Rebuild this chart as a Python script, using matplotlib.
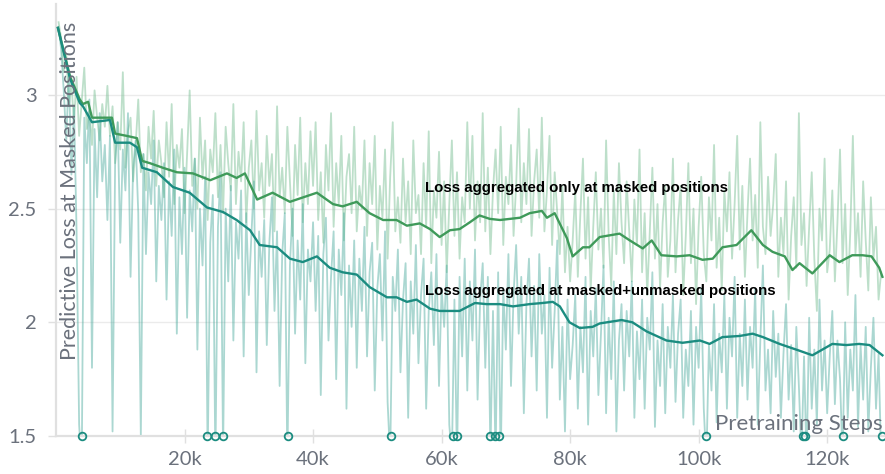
import matplotlib
matplotlib.use("Agg")
import matplotlib.pyplot as plt
import numpy as np

# ---------------- data ----------------
# smoothed curve: loss aggregated only at masked positions (steps in thousands)
masked_steps_k = [0.3, 2.2, 3.7, 4.2, 5.0, 5.6, 8.7, 9.2, 11.0, 12.6, 13.4, 14.6, 16.6, 18.8,
                  21.3, 24.0, 26.6, 28.1, 29.4, 31.3, 33.7, 36.4, 40.6, 43.1, 44.6, 46.8,
                  48.8, 50.9, 53.0, 54.6, 56.6, 58.2, 59.7, 61.3, 62.8, 64.4, 65.9, 67.5,
                  69.1, 72.2, 73.7, 75.6, 76.4, 77.6, 79.5, 80.4, 82.0, 83.0, 84.6, 87.7,
                  89.3, 91.3, 92.7, 94.2, 96.6, 98.6, 100.6, 102.2, 103.7, 105.9, 108.2,
                  110.0, 111.5, 113.4, 114.6, 115.7, 117.7, 120.4, 121.9, 123.9, 125.5,
                  126.9, 128.1, 128.6]
masked_smooth = [3.295, 3.08, 2.98, 2.96, 2.97, 2.90, 2.90, 2.83, 2.82, 2.81, 2.71, 2.70, 2.68,
                 2.66, 2.655, 2.625, 2.655, 2.635, 2.655, 2.54, 2.57, 2.53, 2.57, 2.52, 2.51,
                 2.53, 2.48, 2.45, 2.45, 2.425, 2.435, 2.41, 2.375, 2.405, 2.41, 2.44, 2.47,
                 2.455, 2.45, 2.46, 2.48, 2.49, 2.46, 2.48, 2.37, 2.29, 2.33, 2.33, 2.375,
                 2.39, 2.36, 2.325, 2.36, 2.295, 2.29, 2.295, 2.275, 2.28, 2.33, 2.34, 2.405,
                 2.34, 2.31, 2.29, 2.23, 2.26, 2.215, 2.295, 2.265, 2.295, 2.295, 2.29, 2.24,
                 2.20]

# smoothed curve: loss aggregated at masked+unmasked positions
all_steps_k = [0.3, 2.2, 3.7, 4.2, 5.6, 8.4, 9.2, 11.5, 12.6, 13.4, 15.7, 18.2, 20.8, 23.5,
               26.0, 28.1, 30.2, 31.7, 34.4, 36.4, 38.4, 40.6, 42.6, 44.6, 46.8, 48.8, 51.5,
               53.0, 54.6, 56.1, 58.2, 59.7, 62.8, 65.2, 67.0, 69.1, 71.1, 73.7, 75.7, 77.3,
               78.4, 79.9, 81.5, 83.5, 84.6, 88.0, 89.7, 91.9, 95.0, 97.5, 100.2, 101.7,
               103.7, 106.4, 108.4, 110.0, 112.6, 115.7, 117.7, 120.8, 123.0, 125.0, 126.6,
               128.6]
all_smooth = [3.295, 3.07, 2.965, 2.95, 2.88, 2.89, 2.79, 2.79, 2.77, 2.68, 2.66, 2.595, 2.57,
              2.505, 2.485, 2.45, 2.405, 2.34, 2.33, 2.28, 2.265, 2.29, 2.24, 2.22, 2.21, 2.155,
              2.11, 2.11, 2.09, 2.10, 2.06, 2.05, 2.05, 2.085, 2.08, 2.08, 2.07, 2.08, 2.085,
              2.09, 2.07, 2.0, 1.975, 1.98, 1.995, 2.01, 2.0, 1.96, 1.92, 1.91, 1.92, 1.905,
              1.935, 1.94, 1.95, 1.935, 1.905, 1.875, 1.855, 1.905, 1.90, 1.905, 1.90, 1.855]

# raw (unsmoothed) values, logged every 400 steps starting at step 400
raw_first_step = 400
raw_step_every = 400
masked_raw = [
    3.32, 3.25, 3.10, 3.18, 2.95, 3.05, 2.88, 3.08, 2.82, 2.97, 3.12, 2.85, 2.93, 2.78, 3.02, 2.90, 2.80, 2.96, 2.86, 3.04,
    2.82, 2.95, 2.70, 2.88, 2.76, 3.10, 2.68, 2.84, 2.90, 2.62, 2.78, 2.98, 2.66, 2.74, 2.58, 2.86, 2.72, 2.93, 2.60, 2.80,
    2.70, 2.55, 2.88, 2.64, 2.96, 2.52, 2.78, 2.68, 2.85, 2.48, 2.74, 3.02, 2.60, 2.72, 2.50, 2.90, 2.63, 2.80, 2.45, 2.76,
    2.66, 2.92, 2.55, 2.78, 2.48, 2.86, 2.70, 2.58, 2.96, 2.52, 2.75, 2.62, 2.88, 2.44, 2.68, 2.80, 2.50, 2.93, 2.58, 2.70,
    2.46, 2.82, 2.60, 2.74, 2.40, 2.95, 2.55, 2.68, 2.48, 2.86, 2.62, 2.38, 2.78, 2.56, 2.90, 2.44, 2.70, 2.52, 2.84, 2.60,
    2.88, 2.45, 2.66, 2.35, 2.78, 2.58, 2.92, 2.42, 2.70, 2.52, 2.82, 2.36, 2.64, 2.74, 2.48, 2.86, 2.40, 2.60, 2.50, 2.80,
    2.38, 2.70, 2.52, 2.82, 2.32, 2.60, 2.46, 2.76, 2.28, 2.64, 2.88, 2.40, 2.55, 2.35, 2.72, 2.44, 2.62, 2.30, 2.80, 2.48,
    2.56, 2.30, 2.70, 2.42, 2.84, 2.26, 2.58, 2.46, 2.75, 2.34, 2.62, 2.22, 2.52, 2.80, 2.38, 2.66, 2.28, 2.55, 2.44, 2.88,
    2.50, 2.82, 2.36, 2.62, 2.44, 2.92, 2.40, 2.68, 2.30, 2.58, 2.76, 2.48, 2.86, 2.34, 2.64, 2.52, 2.78, 2.38, 2.60, 2.94,
    2.44, 2.70, 2.52, 2.85, 2.38, 2.62, 2.76, 2.46, 2.90, 2.40, 2.58, 2.82, 2.34, 2.66, 2.48, 2.30, 2.60, 2.22, 2.42, 2.18,
    2.36, 2.58, 2.20, 2.48, 2.72, 2.28, 2.55, 2.14, 2.42, 2.66, 2.32, 2.50, 2.24, 2.80, 2.38, 2.16, 2.58, 2.30, 2.70, 2.44,
    2.26, 2.62, 2.40, 2.18, 2.54, 2.34, 2.76, 2.22, 2.48, 2.12, 2.40, 2.68, 2.28, 2.52, 2.15, 2.44, 2.60, 2.20, 2.36, 2.72,
    2.22, 2.45, 2.60, 2.12, 2.38, 2.70, 2.26, 2.50, 2.08, 2.42, 2.64, 2.30, 2.18, 2.55, 2.36, 2.78, 2.24, 2.46, 2.14, 2.58,
    2.40, 2.66, 2.28, 2.52, 2.82, 2.32, 2.60, 2.20, 2.48, 2.72, 2.36, 2.56, 2.24, 2.88, 2.42, 2.30, 2.64, 2.38, 2.52, 2.74,
    2.20, 2.46, 2.30, 2.62, 2.10, 2.38, 2.55, 2.24, 2.92, 2.34, 2.48, 2.16, 2.42, 2.66, 2.28, 2.05, 2.50, 2.36, 2.72, 2.22,
    2.32, 2.58, 2.18, 2.44, 2.76, 2.26, 2.52, 2.12, 2.40, 2.82, 2.30, 2.48, 2.20, 2.62, 2.36, 2.14, 2.55, 2.28, 2.42, 2.10,
    2.22]
all_raw = [
    3.30, 3.20, 3.02, 2.80, 3.10, 2.65, 2.95, 2.40, 1.55, 1.35, 2.90, 2.70, 2.98, 1.80, 2.85, 2.55, 2.92, 2.62, 2.78, 2.45,
    2.82, 1.52, 2.70, 2.88, 2.35, 2.76, 2.58, 2.92, 2.20, 2.68, 2.80, 2.48, 1.50, 2.74, 2.30, 2.66, 2.52, 2.80, 2.18, 2.60,
    2.45, 2.70, 2.10, 2.62, 2.38, 2.76, 1.95, 2.55, 2.30, 2.68, 2.02, 2.58, 2.40, 2.72, 1.88, 2.50, 2.25, 2.64, 1.40, 2.35,
    2.56, 1.38, 2.42, 2.66, 1.42, 2.50, 2.18, 2.60, 1.92, 2.44, 2.28, 2.58, 1.85, 2.48, 2.12, 2.38, 2.62, 1.78, 2.40, 2.20,
    2.45, 1.90, 2.35, 2.55, 2.05, 2.40, 1.72, 2.30, 2.48, 1.38, 2.25, 2.50, 1.95, 2.36, 2.10, 2.52, 1.82, 2.32, 2.18, 2.44,
    2.05, 2.38, 1.68, 2.30, 2.46, 1.92, 2.20, 2.40, 1.75, 2.32, 2.12, 2.48, 1.62, 2.25, 1.98, 2.36, 1.80, 2.28, 2.05, 2.42,
    1.85, 2.22, 2.35, 1.70, 2.15, 2.30, 1.92, 2.40, 1.65, 1.40, 2.20, 2.05, 2.32, 1.78, 2.10, 2.26, 1.58, 2.18, 1.95, 2.34,
    1.82, 2.12, 2.28, 1.62, 2.05, 2.22, 1.90, 2.30, 1.72, 2.15, 1.98, 2.25, 1.55, 1.40, 2.10, 1.38, 2.20, 1.85, 2.28, 1.70,
    2.18, 1.92, 2.32, 1.66, 2.10, 2.26, 1.80, 2.20, 1.42, 2.05, 1.40, 2.22, 1.38, 2.15, 1.88, 2.30, 1.72, 2.12, 2.34, 1.95,
    2.20, 1.60, 2.08, 2.28, 1.85, 2.16, 1.70, 2.30, 1.95, 2.12, 1.58, 2.24, 1.80, 2.05, 2.36, 1.66, 1.98, 1.52, 2.10, 1.75,
    1.90, 2.12, 1.62, 1.98, 1.78, 2.20, 1.55, 2.05, 1.85, 2.15, 1.68, 1.95, 2.25, 1.60, 2.02, 1.75, 2.18, 1.52, 1.92, 2.08,
    1.70, 2.05, 1.85, 2.18, 1.58, 1.96, 1.75, 2.10, 1.62, 2.02, 1.88, 2.22, 1.54, 1.92, 1.72, 2.08, 1.60, 1.98, 1.80, 2.12,
    1.65, 1.95, 2.10, 1.58, 1.88, 1.72, 2.05, 1.55, 1.98, 1.80, 2.15, 1.62, 1.38, 1.90, 1.70, 2.08, 1.56, 1.95, 1.78, 2.12,
    1.62, 2.02, 1.85, 2.20, 1.58, 1.95, 1.72, 2.10, 1.66, 1.98, 1.80, 2.15, 1.55, 1.92, 2.25, 1.70, 1.88, 1.60, 2.05, 1.76,
    1.95, 1.58, 1.86, 2.08, 1.66, 1.90, 1.52, 1.98, 1.72, 1.40, 1.85, 1.38, 2.02, 1.62, 1.88, 1.55, 2.10, 1.70, 1.92, 1.60,
    1.85, 2.05, 1.64, 1.92, 1.75, 1.40, 2.00, 1.58, 1.88, 1.70, 2.12, 1.54, 1.90, 1.66, 1.98, 1.52, 1.80, 2.02, 1.62, 1.86,
    1.40]

# steps (thousands) where the masked+unmasked raw loss falls below the visible range
below_range_steps_k = [4.0, 23.5, 24.7, 26.0, 36.1, 52.1, 61.7, 62.4, 67.5, 68.3, 69.0,
                       101.2, 116.2, 116.6, 122.4, 128.5]

x_ticks_k = [20, 40, 60, 80, 100, 120]
x_tick_labels = ["20k", "40k", "60k", "80k", "100k", "120k"]
y_ticks = [1.5, 2, 2.5, 3]
y_tick_labels = ["1.5", "2", "2.5", "3"]

label_masked = "Loss aggregated only at masked positions"
label_all = "Loss aggregated at masked+unmasked positions"
y_title = "Predictive Loss at Masked Positions"
x_title = "Pretraining Steps"

# ---------------- drawing ----------------
GREEN = "#3f9a5a"
TEAL = "#1b8c80"
GREEN_RAW = "#7cc196"
TEAL_RAW = "#45a89b"
GRID = "#ebebeb"
AXIS = "#e0e0e0"
TXT = "#6b717c"
FONT = ["Lato", "DejaVu Sans"]

fig = plt.figure(figsize=(8.85, 4.74), dpi=100)
W, H = 885, 474
ax = fig.add_axes([56 / W, 38 / H, 829 / W, 432 / H])
ax.set_xlim(0, 129000)
ax.set_ylim(1.5, 3.4)

raw_x_m = raw_first_step + raw_step_every * np.arange(len(masked_raw))
raw_x_a = raw_first_step + raw_step_every * np.arange(len(all_raw))
ax.plot(raw_x_m, masked_raw, color=GREEN_RAW, alpha=0.5, lw=1.3, zorder=2)
ax.plot(raw_x_a, all_raw, color=TEAL_RAW, alpha=0.45, lw=1.3, zorder=2)

ax.plot(np.array(masked_steps_k) * 1000, masked_smooth, color=GREEN, lw=1.7, zorder=4)
ax.plot(np.array(all_steps_k) * 1000, all_smooth, color=TEAL, lw=1.7, zorder=4)

ax.plot(np.array(below_range_steps_k) * 1000, [1.5] * len(below_range_steps_k), "o",
        mfc="none", mec=TEAL, ms=5.5, mew=1.3, clip_on=False, zorder=6)

ax.text(57.4e3, 2.591, label_masked, fontsize=10.8, fontweight="bold", color="black",
        family=["Liberation Sans", "DejaVu Sans"], ha="left", va="center", zorder=7)
ax.text(57.4e3, 2.138, label_all, fontsize=10.8, fontweight="bold", color="black",
        family=["Liberation Sans", "DejaVu Sans"], ha="left", va="center", zorder=7)

for s in ["top", "right"]:
    ax.spines[s].set_visible(False)
for s in ["left", "bottom"]:
    ax.spines[s].set_color(AXIS)
    ax.spines[s].set_linewidth(1.6)

ax.set_yticks(y_ticks)
ax.set_yticklabels(y_tick_labels)
ax.set_xticks(np.array(x_ticks_k) * 1000)
ax.set_xticklabels(x_tick_labels)
ax.grid(axis="y", color=GRID, lw=1.0, zorder=0)
ax.tick_params(axis="y", length=6, color=AXIS, width=1.0, pad=8, labelcolor=TXT, labelsize=14.5)
ax.tick_params(axis="x", direction="inout", length=10, color=AXIS, width=1.0, pad=6,
               labelcolor=TXT, labelsize=14.5)
for lab in ax.get_xticklabels() + ax.get_yticklabels():
    lab.set_family(FONT)

fig.text(70 / W, (H - 360) / H, y_title, rotation=90, ha="center", va="bottom",
         color=TXT, fontsize=15.5, family=FONT, zorder=8)
fig.text(883 / W, (H - 430) / H, x_title, ha="right", va="baseline",
         color=TXT, fontsize=16, family=FONT, zorder=8)

fig.savefig("out.png", dpi=100)
